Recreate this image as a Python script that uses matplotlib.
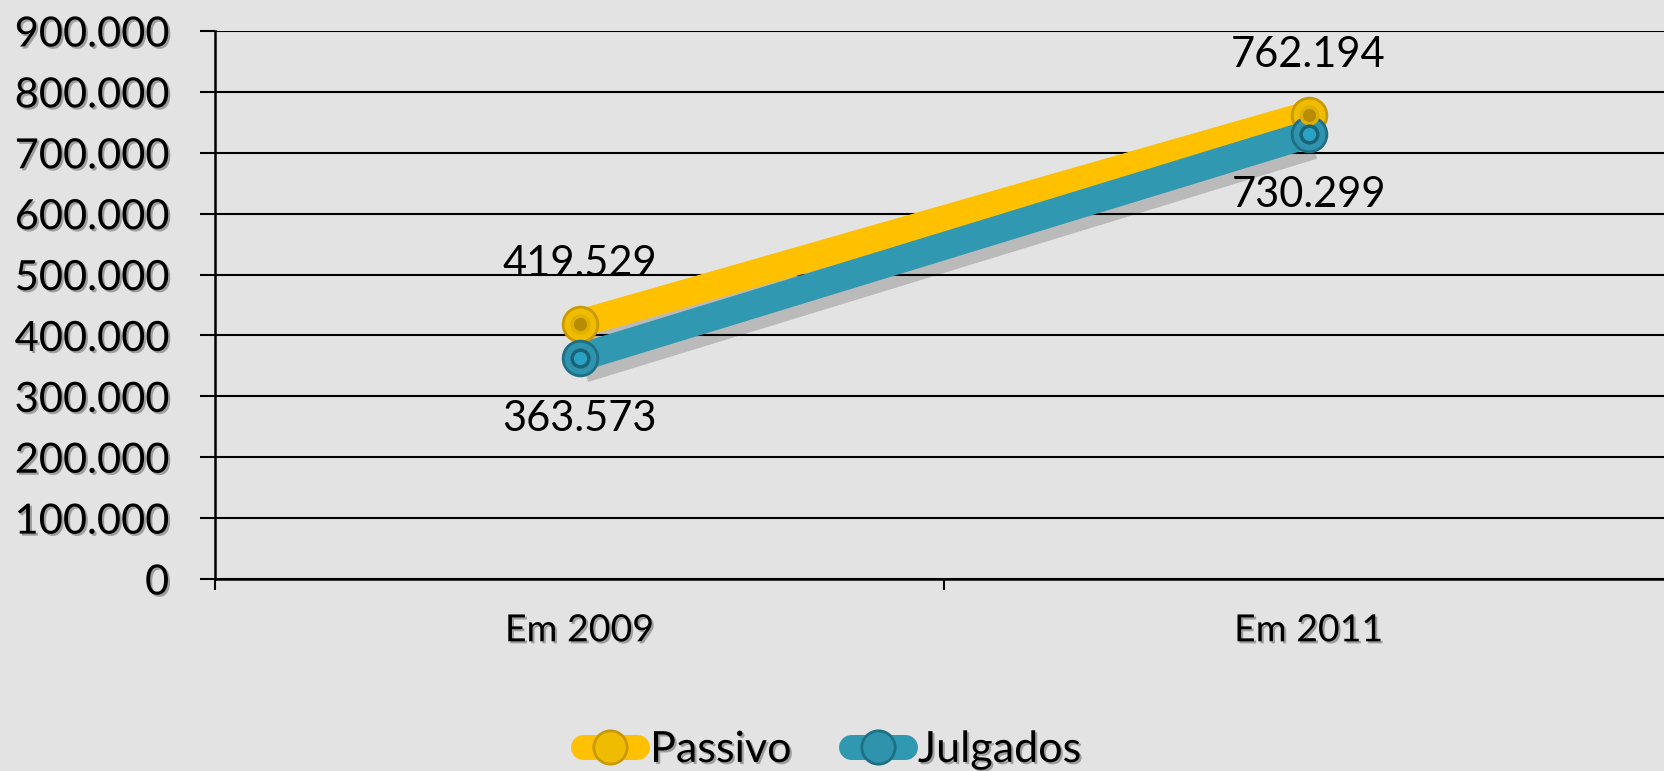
import matplotlib.pyplot as plt
import matplotlib.patheffects as pe
import numpy as np

categories = ['Em 2009', 'Em 2011']
passivo = [419529, 762194]
julgados = [363573, 730299]
yticks = [0, 100000, 200000, 300000, 400000, 500000, 600000, 700000, 800000, 900000]
ylabels = ['0', '100.000', '200.000', '300.000', '400.000', '500.000',
           '600.000', '700.000', '800.000', '900.000']

plt.rcParams['font.family'] = ['Lato', 'DejaVu Sans']

bg = '#e3e3e3'
fig = plt.figure(figsize=(16.64, 7.71), dpi=100, facecolor=bg)
ax = fig.add_axes([215 / 1664, 1 - 579 / 771, (1673 - 215) / 1664, (579 - 31) / 771])
ax.set_facecolor(bg)

x = np.arange(len(categories))
shadow = [pe.SimpleLineShadow(offset=(3, -7), shadow_color='black', alpha=0.18, linewidth=22), pe.Normal()]

ax.plot(x, passivo, color='#ffc000', lw=20, solid_capstyle='butt', zorder=3,
        path_effects=shadow)
ax.plot(x, julgados, color='#3098b0', lw=20, solid_capstyle='butt', zorder=4,
        path_effects=shadow)
# markers with a darker inner ring
ax.plot(x, passivo, ls='none', marker='o', ms=25, mfc='#f0bc00', mec='#c99a00', mew=2, zorder=5)
ax.plot(x, julgados, ls='none', marker='o', ms=25, mfc='#2f93ad', mec='#1f6f85', mew=2, zorder=6)
ax.plot(x, passivo, ls='none', marker='o', ms=12, mfc='#b88c00', mec='#e0b000', mew=2.5, zorder=7)
ax.plot(x, julgados, ls='none', marker='o', ms=12, mfc='#29a2c4', mec='#1a6478', mew=2.5, zorder=7)

txt_shadow = [pe.withSimplePatchShadow(offset=(1.5, -1.5), shadow_rgbFace='black', alpha=0.3)]

for xi, v in zip(x, passivo):
    ax.annotate(f'{v:,}'.replace(',', '.'), (xi, v), xytext=(0, 43), textcoords='offset points',
                ha='center', va='center', fontsize=30, zorder=8)
for xi, v in zip(x, julgados):
    ax.annotate(f'{v:,}'.replace(',', '.'), (xi, v), xytext=(0, -44), textcoords='offset points',
                ha='center', va='center', fontsize=30, zorder=8)

ax.set_xlim(-0.5, 1.5)
ax.set_ylim(0, 900000)
ax.set_yticks(yticks)
ax.set_yticklabels(ylabels, fontsize=30)
for t in ax.get_yticklabels():
    t.set_path_effects(txt_shadow)
ax.set_xticks([-0.5, 0.5, 1.5])
ax.set_xticklabels([])
ax.set_xticks(x, minor=True)
ax.set_xticklabels(categories, minor=True, fontsize=27)
for t in ax.get_xticklabels(minor=True):
    t.set_path_effects(txt_shadow)
ax.tick_params(axis='x', which='minor', length=0, pad=24)
ax.tick_params(axis='x', which='major', length=8, width=1.5, direction='out')
ax.tick_params(axis='y', length=11, width=1.5, pad=22)

ax.grid(axis='y', color='black', lw=1.5)
ax.set_axisbelow(True)
for s in ['top', 'right']:
    ax.spines[s].set_visible(False)
ax.spines['left'].set_linewidth(1.8)
ax.spines['bottom'].set_linewidth(1.8)

# legend built from proxy artists of the same styles
h1 = ax.plot([], [], color='#ffc000', lw=18, solid_capstyle='round', marker='o', ms=24,
             mfc='#f0bc00', mec='#c99a00', mew=2)[0]
h2 = ax.plot([], [], color='#3098b0', lw=18, solid_capstyle='round', marker='o', ms=24,
             mfc='#2f93ad', mec='#1f6f85', mew=2)[0]
leg = fig.legend([h1, h2], ['Passivo', 'Julgados'], loc='center', bbox_to_anchor=(0.5, 1 - 750 / 771),
                 ncol=2, frameon=False, fontsize=31, handlelength=1.25, handletextpad=0.3,
                 columnspacing=1.4)
for t in leg.get_texts():
    t.set_path_effects(txt_shadow)

fig.savefig('out.png', dpi=100, facecolor=bg)
